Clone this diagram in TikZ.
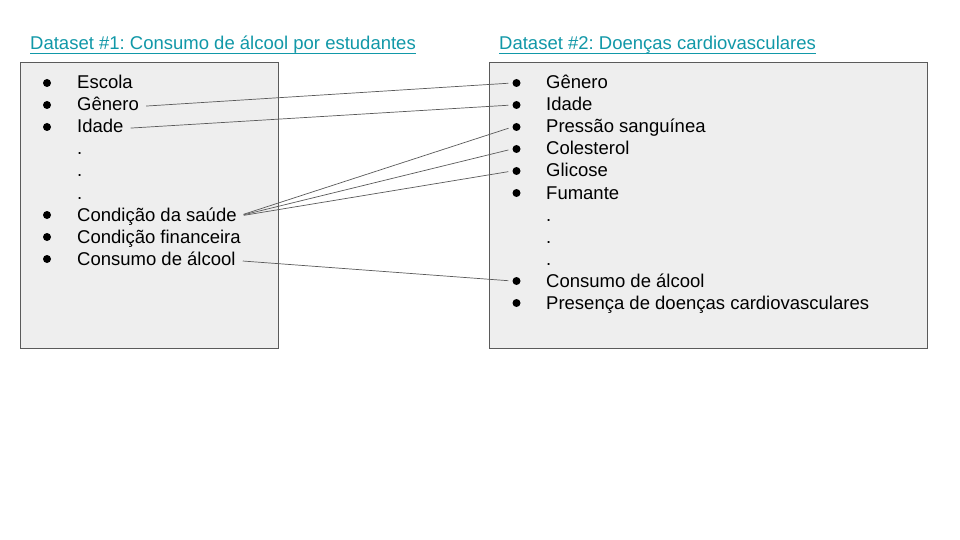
\documentclass[tikz,border=0pt]{standalone}
\usepackage{fontspec}
\setmainfont{Liberation Sans}
\frenchspacing
\definecolor{linkteal}{RGB}{17,152,168}
\definecolor{boxgray}{RGB}{238,238,238}
\definecolor{edgegray}{RGB}{90,90,90}
\tikzset{
  item/.style={anchor=base west,inner sep=0pt,text height=13pt,text depth=4pt},
  bullet/.style={circle,fill=black,minimum size=8pt,inner sep=0pt},
  box/.style={draw=edgegray,fill=boxgray,line width=0.8pt,anchor=north west,inner sep=0pt},
  title/.style={anchor=base west,inner sep=0pt,text=linkteal},
  link/.style={draw=edgegray,line width=0.7pt,shorten <=7pt,shorten >=4pt}
}
\begin{document}
\begin{tikzpicture}[x=1pt,y=-1pt,font=\fontsize{18.5}{22}\selectfont]
\useasboundingbox[fill=white] (0,0) rectangle (960,540);

% titles
\node[title] (tone) at (30,50) {Dataset \#1: Consumo de álcool por estudantes};
\node[title] (ttwo) at (499,50) {Dataset \#2: Doenças cardiovasculares};
\draw[linkteal,line width=0.9pt] ([yshift=-3.5pt]tone.base west) -- ([yshift=-3.5pt]tone.base east);
\draw[linkteal,line width=0.9pt] ([yshift=-3.5pt]ttwo.base west) -- ([yshift=-3.5pt]ttwo.base east);

% boxes
\node[box,minimum width=258pt,minimum height=286pt] (lbox) at (20,62) {};
\node[box,minimum width=438pt,minimum height=286pt] (rbox) at (489,62) {};

% left list
\foreach \n/\t/\y in {lesc/Escola/89, lgen/Gênero/111, lida/Idade/133,
    ldota/./155, ldotb/./177, ldotc/./199, lsau/Condição da saúde/221,
    lfin/Condição financeira/243, lalc/Consumo de álcool/265}
  \node[item] (\n) at (77,\y) {\t};
\foreach \k in {1,2,3,7,8,9}
  \node[bullet] (lb\k) at (47,{61+22*\k}) {};

% right list
\foreach \n/\t/\y in {rgen/Gênero/89, rida/Idade/111, rpre/Pressão sanguínea/133,
    rcol/Colesterol/155, rgli/Glicose/177, rfum/Fumante/199,
    rdota/./221, rdotb/./243, rdotc/./265,
    ralc/Consumo de álcool/287, rdoe/Presença de doenças cardiovasculares/309}
  \node[item] (\n) at (546,\y) {\t};
\foreach \k in {1,2,3,4,5,6,10,11}
  \node[bullet] (rb\k) at (516.5,{61+22*\k}) {};

% links
\draw[link] (lgen.east) -- (rb1.west);
\draw[link] (lida.east) -- (rb2.west);
\draw[link] (lsau.east) -- (rb3.west);
\draw[link] (lsau.east) -- (rb4.west);
\draw[link] (lsau.east) -- (rb5.west);
\draw[link] (lalc.east) -- (rb10.west);
\end{tikzpicture}
\end{document}
